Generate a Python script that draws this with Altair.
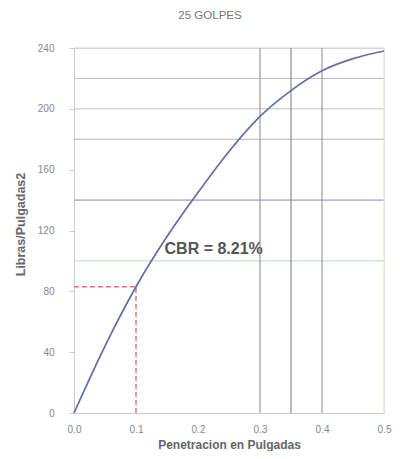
import altair as alt
import pandas as pd

# curve data
pen = [0.0, 0.05, 0.1, 0.15, 0.2, 0.25, 0.3, 0.35, 0.4, 0.45, 0.5]
lbs = [0, 44, 83, 116, 145, 172, 195, 212, 225, 233, 238]

# reference lines
h_vals = [240, 220, 200, 180, 140, 100]
h_cols = ["#cfcfcf", "#b9b9c6", "#c4c4c4", "#b4b4b4", "#7f89b0", "#b4dcae"]
v_vals = [0.3, 0.35, 0.4, 0.5]
v_cols = ["#9a9a9a", "#8c8c8c", "#9a9a9a", "#e6e6c4"]

cbr_x = 0.1
cbr_y = 83
cbr_label = "CBR = 8.21%"

x_ticks = [0.0, 0.1, 0.2, 0.3, 0.4, 0.5]
y_ticks = [0, 40, 80, 120, 160, 200, 240]

curve_df = pd.DataFrame({"x": pen, "y": lbs})
h_df = pd.DataFrame({"y": h_vals, "c": h_cols})
v_df = pd.DataFrame({"x": v_vals, "c": v_cols})

xs = alt.Scale(domain=[0, 0.5], nice=False)
ys = alt.Scale(domain=[0, 240], nice=False)

x_axis = alt.Axis(values=x_ticks, format=".1f", title="Penetracion en Pulgadas",
                  grid=False, domainColor="#cccccc", tickSize=0, labelPadding=11,
                  labelFlush=False,
                  labelColor="#888888", labelFontSize=10, labelFont="Liberation Sans",
                  titleFont="Liberation Sans", titleFontSize=12, titleFontWeight="bold",
                  titleColor="#666666", titleX=155, titleY=31, titleBaseline="middle",
                  titleAlign="center")
y_axis = alt.Axis(values=y_ticks, title="Libras/Pulgadas2", grid=False,
                  domainColor="#cccccc", tickColor="#cccccc", tickSize=5, labelPadding=15,
                  labelFlush=False,
                  labelColor="#888888", labelFontSize=10, labelFont="Liberation Sans",
                  titleFont="Liberation Sans", titleFontSize=12.5, titleFontWeight="bold",
                  titleColor="#666666", titleX=-54, titleY=176, titleAngle=-90,
                  titleBaseline="middle", titleAlign="center")

hrules = alt.Chart(h_df).mark_rule(strokeWidth=1).encode(
    y=alt.Y("y:Q", scale=ys, axis=y_axis),
    color=alt.Color("c:N", scale=None),
)
vrules = alt.Chart(v_df).mark_rule(strokeWidth=1.2).encode(
    x=alt.X("x:Q", scale=xs, axis=x_axis),
    color=alt.Color("c:N", scale=None),
)

red_h = alt.Chart(pd.DataFrame({"x": [0.0], "x2": [cbr_x], "y": [cbr_y]})).mark_rule(
    color="#e27a5a", strokeDash=[5, 3], strokeWidth=1.3
).encode(x=alt.X("x:Q", scale=xs), x2="x2:Q", y=alt.Y("y:Q", scale=ys))
red_v = alt.Chart(pd.DataFrame({"x": [cbr_x], "y": [0], "y2": [cbr_y]})).mark_rule(
    color="#e06a6a", strokeDash=[5, 3], strokeWidth=1.3
).encode(x=alt.X("x:Q", scale=xs), y=alt.Y("y:Q", scale=ys), y2="y2:Q")

curve = alt.Chart(curve_df).mark_line(color="#5f6fa6", strokeWidth=1.7, interpolate="monotone").encode(
    x=alt.X("x:Q", scale=xs), y=alt.Y("y:Q", scale=ys)
)

label = alt.Chart(pd.DataFrame({"x": [0.146], "y": [108], "t": [cbr_label]})).mark_text(
    align="left", baseline="middle", font="Liberation Sans", fontSize=16,
    fontWeight="bold", color="#555555"
).encode(x=alt.X("x:Q", scale=xs), y=alt.Y("y:Q", scale=ys), text="t:N")

chart = alt.layer(hrules, vrules, red_h, red_v, curve, label).properties(
    width=310, height=365,
    title=alt.TitleParams("25 GOLPES", font="Liberation Sans", fontSize=11.5,
                          fontWeight="normal", color="#777777", anchor="middle",
                          dx=-19, offset=22),
    autosize=alt.AutoSizeParams(type="none"),
    padding={"left": 66, "top": 40, "right": 8, "bottom": 38},
).configure_view(stroke=None).configure(background="white")

chart.save("out.html", embed_options={"renderer": "svg", "actions": False})
